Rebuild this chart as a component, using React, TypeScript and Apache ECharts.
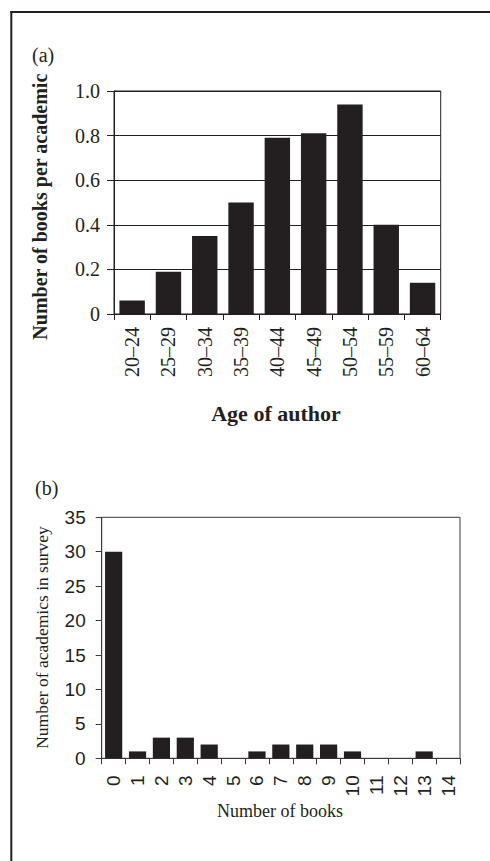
import React, { useEffect, useRef } from "react";
import * as echarts from "echarts";

const ageGroups = ["20–24", "25–29", "30–34", "35–39", "40–44", "45–49", "50–54", "55–59", "60–64"];
const booksPerAcademic = [0.06, 0.19, 0.35, 0.5, 0.79, 0.81, 0.94, 0.4, 0.14];

const bookCounts = ["0", "1", "2", "3", "4", "5", "6", "7", "8", "9", "10", "11", "12", "13", "14"];
const academicsInSurvey = [30, 1, 3, 3, 2, 0, 1, 2, 2, 2, 1, 0, 0, 1, 0];

const ink = "#231f20";
const serif = "'Liberation Serif', 'Times New Roman', serif";
const sans = "'Liberation Sans', Arial, sans-serif";

export default function App() {
  const ref = useRef<HTMLDivElement>(null);

  useEffect(() => {
    if (!ref.current) return;
    const chart = echarts.init(ref.current, null, { renderer: "svg" });
    chart.setOption({
      animation: false,
      backgroundColor: "#ffffff",
      grid: [
        { left: 114, top: 91, width: 326.7, height: 223, show: true, borderColor: ink, borderWidth: 1 },
        { left: 101.7, top: 517.3, width: 358.3, height: 241, show: true, borderColor: "#3a3a3a", borderWidth: 1 },
      ],
      xAxis: [
        {
          type: "category",
          gridIndex: 0,
          data: ageGroups,
          axisLine: { show: true, lineStyle: { color: ink, width: 1 } },
          axisTick: { show: true, length: 6, lineStyle: { color: ink } },
          axisLabel: { interval: 0, rotate: 90, margin: 13, fontFamily: serif, fontSize: 20, color: ink },
        },
        {
          type: "category",
          gridIndex: 1,
          data: bookCounts,
          axisLine: { show: true, lineStyle: { color: "#3a3a3a", width: 1 } },
          axisTick: { show: true, length: 6, lineStyle: { color: "#3a3a3a" } },
          axisLabel: { interval: 0, rotate: 90, margin: 17, fontFamily: sans, fontSize: 19, color: ink },
        },
      ],
      yAxis: [
        {
          type: "value",
          gridIndex: 0,
          min: 0,
          max: 1,
          interval: 0.2,
          axisLine: { show: true, lineStyle: { color: ink, width: 1 } },
          axisTick: { show: true, length: 7, lineStyle: { color: ink } },
          splitLine: { show: true, lineStyle: { color: ink, width: 1 } },
          axisLabel: {
            margin: 14,
            fontFamily: serif,
            fontSize: 20,
            color: ink,
            formatter: (v: number) => (v === 0 ? "0" : v.toFixed(1)),
          },
        },
        {
          type: "value",
          gridIndex: 1,
          min: 0,
          max: 35,
          interval: 5,
          axisLine: { show: true, lineStyle: { color: "#3a3a3a", width: 1 } },
          axisTick: { show: true, length: 6, lineStyle: { color: "#3a3a3a" } },
          splitLine: { show: false },
          axisLabel: { margin: 16, fontFamily: sans, fontSize: 19, color: ink },
        },
      ],
      series: [
        {
          type: "bar",
          xAxisIndex: 0,
          yAxisIndex: 0,
          data: booksPerAcademic,
          barCategoryGap: "30%",
          itemStyle: { color: ink },
        },
        {
          type: "bar",
          xAxisIndex: 1,
          yAxisIndex: 1,
          data: academicsInSurvey,
          barCategoryGap: "28%",
          itemStyle: { color: ink },
        },
      ],
      graphic: [
        { type: "line", shape: { x1: 11.3, y1: 11, x2: 11.3, y2: 861 }, style: { stroke: ink, lineWidth: 2 } },
        { type: "line", shape: { x1: 10.3, y1: 12, x2: 490, y2: 12 }, style: { stroke: ink, lineWidth: 2 } },
        {
          type: "text",
          x: 32,
          y: 55,
          style: { text: "(a)", font: `20px ${serif}`, fill: ink, align: "left", verticalAlign: "middle" },
        },
        {
          type: "text",
          x: 35,
          y: 487.5,
          style: { text: "(b)", font: `20px ${serif}`, fill: ink, align: "left", verticalAlign: "middle" },
        },
        {
          type: "text",
          x: 40,
          y: 206.7,
          rotation: Math.PI / 2,
          style: {
            text: "Number of books per academic",
            font: `bold 20px ${serif}`,
            fill: ink,
            align: "center",
            verticalAlign: "middle",
          },
        },
        {
          type: "text",
          x: 276,
          y: 413,
          style: { text: "Age of author", font: `bold 22px ${serif}`, fill: ink, align: "center", verticalAlign: "middle" },
        },
        {
          type: "text",
          x: 41.5,
          y: 637.5,
          rotation: Math.PI / 2,
          style: {
            text: "Number of academics in survey",
            font: `17.5px ${serif}`,
            fill: ink,
            align: "center",
            verticalAlign: "middle",
          },
        },
        {
          type: "text",
          x: 280,
          y: 811,
          style: { text: "Number of books", font: `18px ${serif}`, fill: ink, align: "center", verticalAlign: "middle" },
        },
      ],
    });
    return () => chart.dispose();
  }, []);

  return (
    <div
      ref={ref}
      style={{ position: "fixed", left: 0, top: 0, width: 490, height: 861, background: "#fff" }}
    />
  );
}
